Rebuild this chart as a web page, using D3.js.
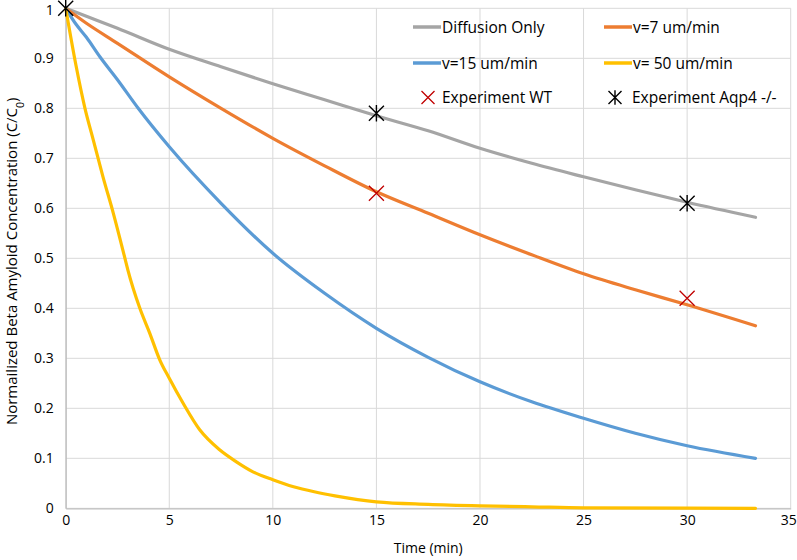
<!DOCTYPE html>
<html>
<head>
<meta charset="utf-8">
<script src="https://cdn.jsdelivr.net/npm/d3@7"></script>
<style>
  html, body { margin: 0; padding: 0; background: #fff; }
  text { font-family: "Open Sans", "Noto Sans", sans-serif; fill: #000; }
</style>
</head>
<body>
<svg id="chart" width="797" height="560"></svg>
<script>
// ---- data ----
const xTicks = [0, 5, 10, 15, 20, 25, 30, 35];
const yTicks = [0, 0.1, 0.2, 0.3, 0.4, 0.5, 0.6, 0.7, 0.8, 0.9, 1];
const yTickLabels = ["0", "0.1", "0.2", "0.3", "0.4", "0.5", "0.6", "0.7", "0.8", "0.9", "1"];

const diffusionT = [0, 1, 2.5, 5, 7.5, 10, 12.5, 15, 17.5, 20, 22.5, 25, 27.5, 30, 33.3];
const diffusionC = [1, 0.984, 0.96, 0.918, 0.883, 0.849, 0.817, 0.785, 0.755, 0.72, 0.69, 0.663, 0.637, 0.612, 0.582];

const v7T = [0, 1, 2.5, 5, 7.5, 10, 12.5, 15, 17.5, 20, 22.5, 25, 27.5, 30, 33.3];
const v7C = [1, 0.97, 0.93, 0.863, 0.80, 0.74, 0.685, 0.633, 0.59, 0.547, 0.507, 0.469, 0.437, 0.407, 0.365];

const v15T = [0, 0.5, 1, 1.65, 2.5, 3.5, 5, 7.5, 10, 12.5, 15, 17.5, 20, 22.5, 25, 27.5, 30, 33.3];
const v15C = [1, 0.968, 0.942, 0.903, 0.857, 0.80, 0.723, 0.61, 0.51, 0.43, 0.36, 0.302, 0.253, 0.213, 0.18, 0.15, 0.125, 0.10];

const v50T = [0, 0.5, 0.93, 1.33, 1.8, 2.3, 2.86, 3.0, 3.58, 4.06, 4.54, 5, 5.67, 6.47, 7.43, 8.24, 9.04, 10, 11, 12, 13, 15, 17.5, 20, 22.5, 25, 33.3];
const v50C = [1, 0.885, 0.80, 0.737, 0.663, 0.59, 0.5, 0.477, 0.4, 0.35, 0.297, 0.26, 0.21, 0.157, 0.117, 0.093, 0.073, 0.057, 0.043, 0.033, 0.025, 0.013, 0.008, 0.005, 0.003, 0.001, 0];

const wtT = [15, 30];
const wtC = [0.63, 0.42];
const aqpT = [0, 15, 30];
const aqpC = [1, 0.79, 0.61];

const seriesNames = ["Diffusion Only", "v=7 um/min", "v=15 um/min", "v= 50 um/min"];
const seriesColors = ["#A5A5A5", "#ED7D31", "#5B9BD5", "#FFC000"];
const markerNames = ["Experiment WT", "Experiment Aqp4 -/-"];
const markerColors = ["#C00000", "#000000"];

// ---- drawing ----
const svg = d3.select("#chart");
const x = d3.scaleLinear().domain([0, 35]).range([65.7, 790.7]);
const y = d3.scaleLinear().domain([0, 1]).range([508.3, 8.3]);

// gridlines
svg.append("g").selectAll("line").data(yTicks).join("line")
  .attr("x1", x(0)).attr("x2", x(35))
  .attr("y1", d => y(d)).attr("y2", d => y(d))
  .attr("stroke", "#D9D9D9").attr("stroke-width", 1);
svg.append("g").selectAll("line").data(xTicks).join("line")
  .attr("x1", d => x(d)).attr("x2", d => x(d))
  .attr("y1", y(0)).attr("y2", y(1))
  .attr("stroke", "#D9D9D9").attr("stroke-width", 1);

// axes
const xAxis = svg.append("g").attr("transform", `translate(0,${y(0)})`)
  .call(d3.axisBottom(x).tickValues(xTicks).tickSize(0).tickPadding(7).tickFormat(d3.format("d")));
xAxis.select(".domain").attr("stroke", "#BFBFBF").attr("stroke-width", 1.3);
xAxis.selectAll("text").style("font-size", "14px").attr("font-family", null);
xAxis.selectAll(".tick").filter(d => d === 35).select("text").attr("dx", -2.5);

const yAxis = svg.append("g").attr("transform", `translate(${x(0)},0)`)
  .call(d3.axisLeft(y).tickValues(yTicks).tickSize(0).tickPadding(12)
    .tickFormat((d, i) => yTickLabels[i]));
yAxis.select(".domain").attr("stroke", "#BFBFBF").attr("stroke-width", 1.3);
yAxis.selectAll("text").style("font-size", "14px").attr("font-family", null);
yAxis.selectAll(".tick").filter(d => d === 1).select("text").attr("dy", "0.42em");

// series lines
const seriesT = [diffusionT, v7T, v15T, v50T];
const seriesC = [diffusionC, v7C, v15C, v50C];
const line = d3.line().x(d => x(d[0])).y(d => y(d[1])).curve(d3.curveMonotoneX);
seriesT.forEach((ts, i) => {
  const pts = ts.map((t, j) => [t, seriesC[i][j]]);
  svg.append("path").datum(pts)
    .attr("d", line)
    .attr("fill", "none")
    .attr("stroke", seriesColors[i])
    .attr("stroke-width", 3.2)
    .attr("stroke-linejoin", "round")
    .attr("stroke-linecap", "round");
});

// markers
function xMark(g, cx, cy, r, color) {
  g.append("path")
    .attr("d", `M${cx - r},${cy - r}L${cx + r},${cy + r}M${cx - r},${cy + r}L${cx + r},${cy - r}`)
    .attr("stroke", color).attr("stroke-width", 1.3).attr("fill", "none");
}
function starMark(g, cx, cy, r, color) {
  g.append("path")
    .attr("d", `M${cx - r},${cy - r}L${cx + r},${cy + r}M${cx - r},${cy + r}L${cx + r},${cy - r}M${cx},${cy - r * 1.1}L${cx},${cy + r * 1.1}`)
    .attr("stroke", color).attr("stroke-width", 1.4).attr("fill", "none");
}
const mg = svg.append("g");
wtT.forEach((t, i) => xMark(mg, x(t), y(wtC[i]), 7.5, markerColors[0]));
aqpT.forEach((t, i) => starMark(mg, x(t), y(aqpC[i]), 7.5, markerColors[1]));

// legend
const lg = svg.append("g");
const legendPos = [[413, 27], [604, 27], [413, 63], [604, 63]];
seriesNames.forEach((name, i) => {
  const [lx, ly] = legendPos[i];
  lg.append("line").attr("x1", lx).attr("x2", lx + 28).attr("y1", ly).attr("y2", ly)
    .attr("stroke", seriesColors[i]).attr("stroke-width", 3.5);
  lg.append("text").attr("x", lx + 29).attr("y", ly + 5.5).style("font-size", "15.5px").text(name);
});
xMark(lg, 428, 97.5, 6.5, markerColors[0]);
lg.append("text").attr("x", 442).attr("y", 103).style("font-size", "15.5px").text(markerNames[0]);
starMark(lg, 615, 97.5, 6.5, markerColors[1]);
lg.append("text").attr("x", 632).attr("y", 103).style("font-size", "15.5px").text(markerNames[1]);

// axis titles
svg.append("text").attr("x", (x(0) + x(35)) / 2).attr("y", 553)
  .attr("text-anchor", "middle").style("font-size", "14px").text("Time (min)");

const yt = svg.append("text")
  .attr("transform", `translate(17,${(y(0) + y(1)) / 2 + 3}) rotate(-90)`)
  .attr("text-anchor", "middle").style("font-size", "15px");
yt.append("tspan").text("Normailized Beta Amyloid Concentration (C/C");
yt.append("tspan").attr("baseline-shift", "sub").style("font-size", "10.5px").text("0");
yt.append("tspan").text(")");
</script>
</body>
</html>
